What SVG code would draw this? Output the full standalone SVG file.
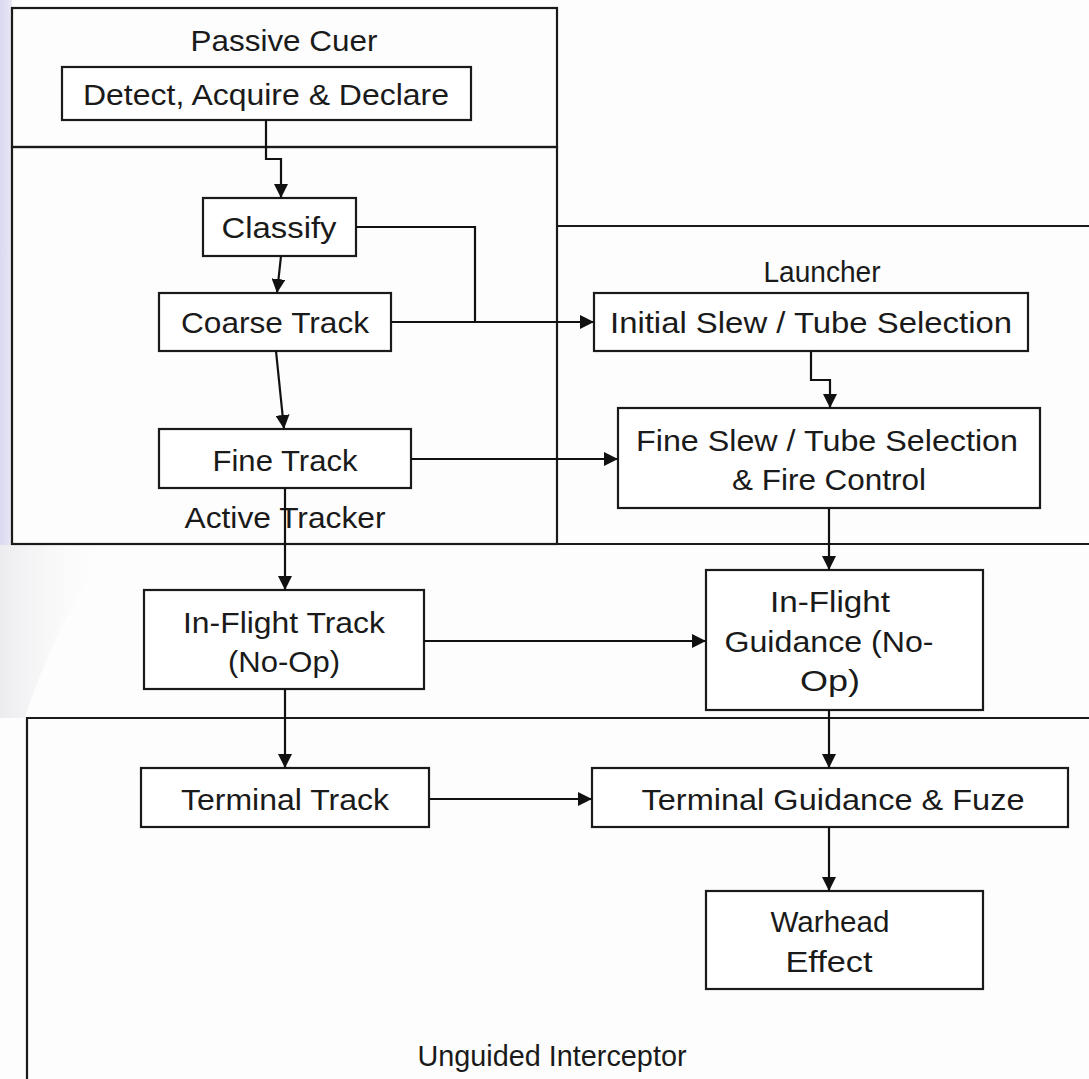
<svg xmlns="http://www.w3.org/2000/svg" width="1089" height="1079" viewBox="0 0 1089 1079">
<defs>
<style>
.box{fill:#fff;stroke:#1a1a1a;stroke-width:2.2}
.frame{fill:none;stroke:#1a1a1a;stroke-width:2.2}
.c{fill:none;stroke:#111;stroke-width:2.2}
text{font-family:"Liberation Sans",Arial,sans-serif;font-size:30px;fill:#1a1a1a;text-anchor:middle}
</style>
<marker id="arr" viewBox="0 0 12 12" refX="12" refY="6" markerWidth="14" markerHeight="14" markerUnits="userSpaceOnUse" orient="auto">
<path d="M0,0 L12,6 L0,12 z" fill="#111"/>
</marker>
<linearGradient id="lav" x1="0" y1="0" x2="1" y2="0">
<stop offset="0" stop-color="#d9d8ef"/>
<stop offset="1" stop-color="#e9e8f5"/>
</linearGradient>
<linearGradient id="wm" x1="0" y1="0" x2="1" y2="0">
<stop offset="0" stop-color="#ececef"/>
<stop offset="1" stop-color="#fdfdfd" stop-opacity="0"/>
</linearGradient>
</defs>
<rect width="1089" height="1079" fill="#fdfdfd"/>
<rect x="0" y="0" width="12" height="545" fill="url(#lav)"/>
<path d="M0,545 L110,545 C80,590 50,640 25,718 L0,718 z" fill="url(#wm)"/>

<g id="passive-cuer">
<rect class="frame" x="12" y="8" width="545" height="139"/>
<text x="284" y="51" textLength="187" lengthAdjust="spacingAndGlyphs">Passive Cuer</text>
</g>
<g id="active-tracker">
<rect class="frame" x="12" y="147" width="545" height="397"/>
<text x="285" y="528" textLength="201" lengthAdjust="spacingAndGlyphs">Active Tracker</text>
</g>
<g id="launcher">
<path class="frame" d="M557,226 L1089,226 M557,544 L1089,544"/>
<text x="822" y="282" textLength="117" lengthAdjust="spacingAndGlyphs">Launcher</text>
</g>
<g id="unguided-interceptor">
<path class="frame" d="M27,1079 L27,718 L1089,718"/>
<text x="552" y="1066" textLength="269" lengthAdjust="spacingAndGlyphs">Unguided Interceptor</text>
</g>

<g id="detect">
<rect class="box" x="62" y="67" width="409" height="53"/>
<text x="266" y="105" textLength="366" lengthAdjust="spacingAndGlyphs">Detect, Acquire &amp; Declare</text>
</g>
<g id="classify">
<rect class="box" x="203" y="198" width="153" height="58"/>
<text x="279" y="238" textLength="115" lengthAdjust="spacingAndGlyphs">Classify</text>
</g>
<g id="coarse-track">
<rect class="box" x="159" y="293" width="232" height="58"/>
<text x="275" y="333" textLength="188" lengthAdjust="spacingAndGlyphs">Coarse Track</text>
</g>
<g id="fine-track">
<rect class="box" x="159" y="429" width="252" height="59"/>
<text x="285" y="471" textLength="145" lengthAdjust="spacingAndGlyphs">Fine Track</text>
</g>
<g id="initial-slew">
<rect class="box" x="594" y="293" width="434" height="58"/>
<text x="811" y="333" textLength="402" lengthAdjust="spacingAndGlyphs">Initial Slew / Tube Selection</text>
</g>
<g id="fine-slew">
<rect class="box" x="618" y="408" width="422" height="100"/>
<text x="827" y="451" textLength="382" lengthAdjust="spacingAndGlyphs">Fine Slew / Tube Selection</text>
<text x="829" y="490" textLength="194" lengthAdjust="spacingAndGlyphs">&amp; Fire Control</text>
</g>
<g id="in-flight-track">
<rect class="box" x="144" y="590" width="280" height="99"/>
<text x="284" y="633" textLength="202" lengthAdjust="spacingAndGlyphs">In-Flight Track</text>
<text x="284" y="672" textLength="112" lengthAdjust="spacingAndGlyphs">(No-Op)</text>
</g>
<g id="in-flight-guidance">
<rect class="box" x="706" y="570" width="277" height="140"/>
<text x="830" y="612" textLength="120" lengthAdjust="spacingAndGlyphs">In-Flight</text>
<text x="829" y="652" textLength="209" lengthAdjust="spacingAndGlyphs">Guidance (No-</text>
<text x="830" y="691" textLength="60" lengthAdjust="spacingAndGlyphs">Op)</text>
</g>
<g id="terminal-track">
<rect class="box" x="141" y="768" width="288" height="59"/>
<text x="285" y="810" textLength="208" lengthAdjust="spacingAndGlyphs">Terminal Track</text>
</g>
<g id="terminal-guidance">
<rect class="box" x="592" y="768" width="476" height="59"/>
<text x="833" y="810" textLength="383" lengthAdjust="spacingAndGlyphs">Terminal Guidance &amp; Fuze</text>
</g>
<g id="warhead">
<rect class="box" x="706" y="891" width="277" height="98"/>
<text x="830" y="932" textLength="119" lengthAdjust="spacingAndGlyphs">Warhead</text>
<text x="829" y="972" textLength="87" lengthAdjust="spacingAndGlyphs">Effect</text>
</g>

<g id="connectors">
<path class="c" d="M266,120 L266,159 L281,159 L281,198" marker-end="url(#arr)"/>
<path class="c" d="M281,256 L277,293" marker-end="url(#arr)"/>
<path class="c" d="M356,227 L475,227 L475,322"/>
<path class="c" d="M391,322 L594,322" marker-end="url(#arr)"/>
<path class="c" d="M276,351 L284,429" marker-end="url(#arr)"/>
<path class="c" d="M811,351 L811,380 L830,380 L830,408" marker-end="url(#arr)"/>
<path class="c" d="M411,459 L618,459" marker-end="url(#arr)"/>
<path class="c" d="M285,488 L285,590" marker-end="url(#arr)"/>
<path class="c" d="M829,508 L829,570" marker-end="url(#arr)"/>
<path class="c" d="M424,641 L706,641" marker-end="url(#arr)"/>
<path class="c" d="M285,689 L285,768" marker-end="url(#arr)"/>
<path class="c" d="M829,710 L829,768" marker-end="url(#arr)"/>
<path class="c" d="M429,799 L592,799" marker-end="url(#arr)"/>
<path class="c" d="M829,827 L829,891" marker-end="url(#arr)"/>
</g>
</svg>
